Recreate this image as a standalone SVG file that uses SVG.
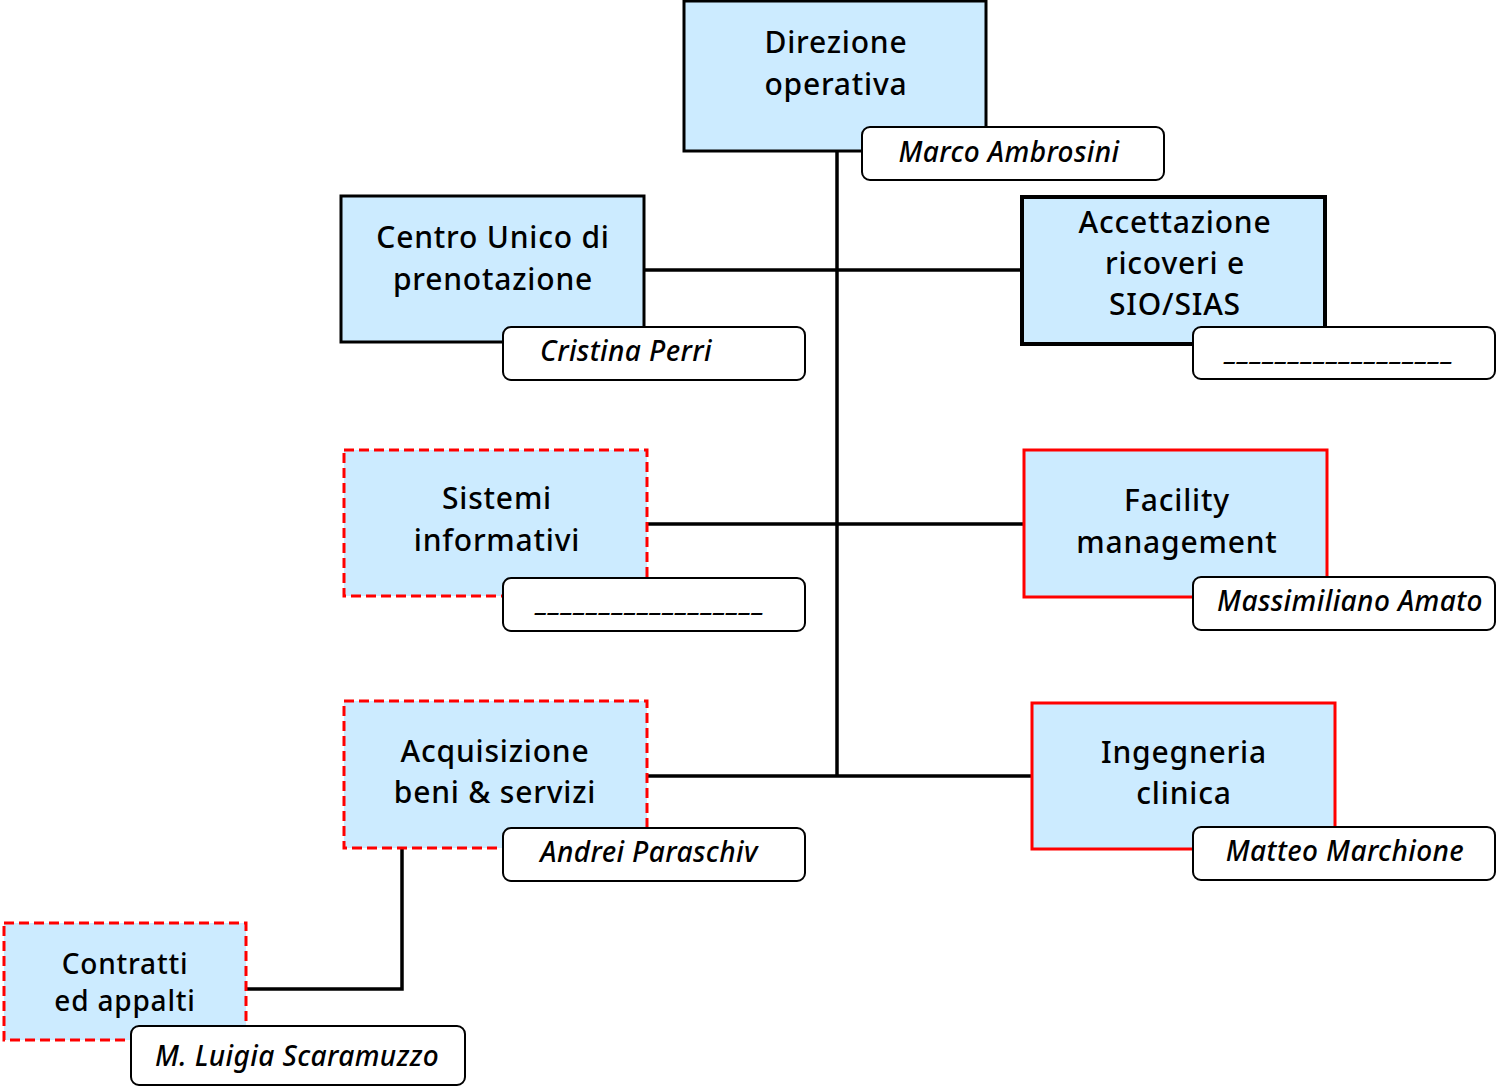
<svg xmlns="http://www.w3.org/2000/svg" width="1496" height="1087" viewBox="0 0 1496 1087">
<style>
.box{fill:#CCEBFF;stroke:#000;stroke-width:3}
.red{fill:#CCEBFF;stroke:#FF0000;stroke-width:3}
.dash{fill:#CCEBFF;stroke:#FF0000;stroke-width:3;stroke-dasharray:10 5}
.name{fill:#fff;stroke:#000;stroke-width:2}
.t{font-family:"Noto Sans","DejaVu Sans",sans-serif;font-size:30px;font-weight:500;fill:#000;text-anchor:middle;letter-spacing:0.8px}
.n{font-family:"Noto Sans","DejaVu Sans",sans-serif;font-size:28px;font-weight:500;font-style:italic;fill:#000;text-anchor:middle;letter-spacing:0.4px}
.c{fill:none;stroke:#000;stroke-width:3.5}
</style>
<rect width="1496" height="1087" fill="#fff"/>
<g id="connectors">
<line class="c" x1="837" y1="151" x2="837" y2="777"/>
<line class="c" x1="644" y1="270" x2="1022" y2="270"/>
<line class="c" x1="647" y1="524" x2="1025" y2="524"/>
<line class="c" x1="647" y1="776" x2="1032" y2="776"/>
<polyline class="c" points="402,848 402,989 246,989"/>
</g>
<g id="direzione">
<rect class="box" x="684" y="1" width="302" height="150"/>
<text class="t" x="836" y="53">Direzione</text>
<text class="t" x="836" y="95">operativa</text>
<rect class="name" x="862" y="127" width="302" height="53" rx="8"/>
<text class="n" x="1009" y="162">Marco Ambrosini</text>
</g>
<g id="cup">
<rect class="box" x="341" y="196" width="303" height="146"/>
<text class="t" x="493" y="248">Centro Unico di</text>
<text class="t" x="493" y="290">prenotazione</text>
<rect class="name" x="503" y="327" width="302" height="53" rx="8"/>
<text class="n" x="626" y="361">Cristina Perri</text>
</g>
<g id="accettazione">
<rect class="box" x="1022" y="197" width="303" height="147" style="stroke-width:4"/>
<text class="t" x="1175" y="233">Accettazione</text>
<text class="t" x="1175" y="274">ricoveri e</text>
<text class="t" x="1175" y="315">SIO/SIAS</text>
<rect class="name" x="1193" y="327" width="302" height="52" rx="8"/>
<text class="n" x="1340" y="359" textLength="228" lengthAdjust="spacing">__________________</text>
</g>
<g id="sistemi">
<rect class="dash" x="344" y="450" width="303" height="146"/>
<text class="t" x="497" y="509">Sistemi</text>
<text class="t" x="497" y="551">informativi</text>
<rect class="name" x="503" y="578" width="302" height="53" rx="8"/>
<text class="n" x="651" y="610" textLength="228" lengthAdjust="spacing">__________________</text>
</g>
<g id="facility">
<rect class="red" x="1024" y="450" width="303" height="147"/>
<text class="t" x="1177" y="511">Facility</text>
<text class="t" x="1177" y="553">management</text>
<rect class="name" x="1193" y="577" width="302" height="53" rx="8"/>
<text class="n" x="1350" y="611">Massimiliano Amato</text>
</g>
<g id="acquisizione">
<rect class="dash" x="344" y="701" width="303" height="147"/>
<text class="t" x="495" y="762">Acquisizione</text>
<text class="t" x="495" y="803">beni &amp; servizi</text>
<rect class="name" x="503" y="828" width="302" height="53" rx="8"/>
<text class="n" x="649" y="862">Andrei Paraschiv</text>
</g>
<g id="ingegneria">
<rect class="red" x="1032" y="703" width="303" height="146"/>
<text class="t" x="1184" y="763">Ingegneria</text>
<text class="t" x="1184" y="804">clinica</text>
<rect class="name" x="1193" y="827" width="302" height="53" rx="8"/>
<text class="n" x="1345" y="861">Matteo Marchione</text>
</g>
<g id="contratti">
<rect class="dash" x="4" y="923" width="242" height="117"/>
<text class="t" x="125" y="974" style="font-size:28px">Contratti</text>
<text class="t" x="125" y="1011" style="font-size:28px">ed appalti</text>
<rect class="name" x="131" y="1026" width="334" height="59" rx="8"/>
<text class="n" x="297" y="1066">M. Luigia Scaramuzzo</text>
</g>
</svg>
